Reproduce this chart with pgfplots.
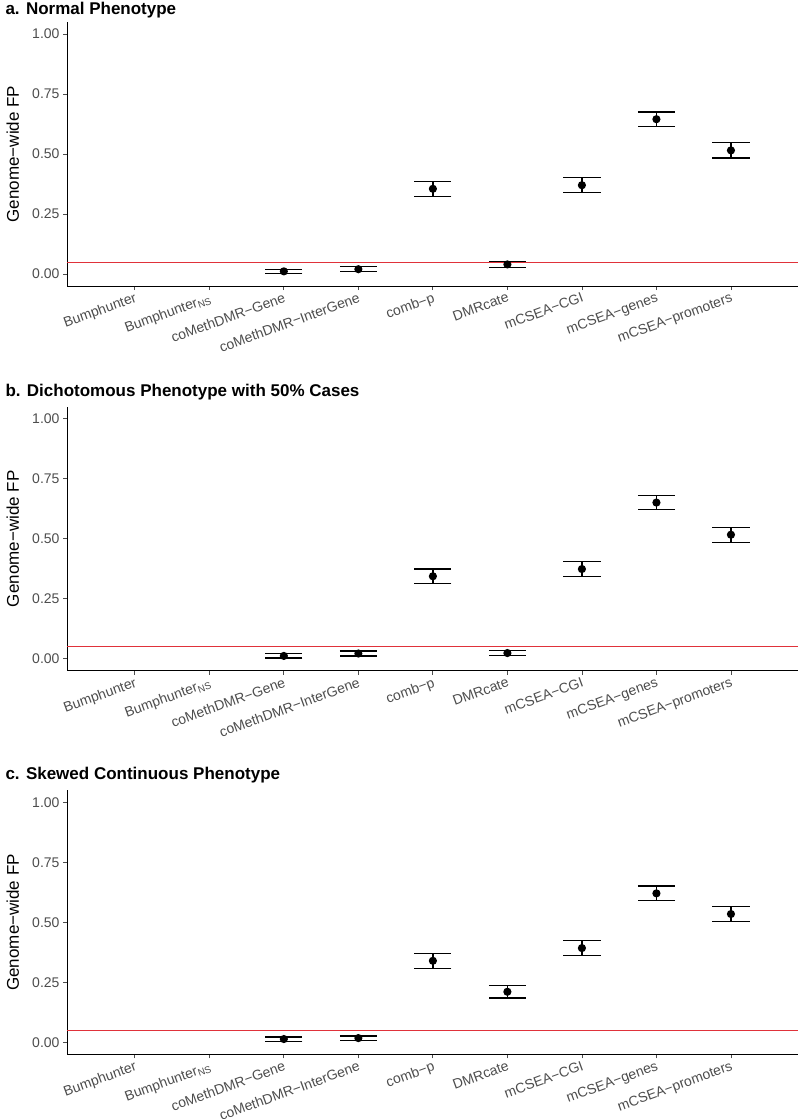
\documentclass[border=0pt]{standalone}
\usepackage{pgfplots}
\pgfplotsset{compat=1.18}
\usepackage{fontspec}
\setmainfont{Liberation Sans}
\definecolor{tickgray}{HTML}{4D4D4D}
\definecolor{hline}{HTML}{E0323A}

\pgfplotsset{
  fpaxis/.style={
    width=731pt, height=264pt, scale only axis,
    anchor=north west,
    xmin=-0.91, xmax=8.9, ymin=-0.05, ymax=1.05,
    axis lines=left,
    axis line style={-, line width=0.9pt, black},
    tick style={line width=0.8pt, tickgray},
    tick align=outside, major tick length=4pt,
    xtick={0,...,8},
    xticklabels={Bumphunter, Bumphunter\textsubscript{NS}, coMethDMR−Gene, coMethDMR−InterGene, comb−p, DMRcate, mCSEA−CGI, mCSEA−genes, mCSEA−promoters},
    ytick={0,0.25,0.5,0.75,1},
    yticklabel style={/pgf/number format/.cd, fixed, fixed zerofill, precision=2, assume math mode=true},
    ticklabel style={font=\fontsize{14}{16}\selectfont, text=tickgray},
    xticklabel style={rotate=20, anchor=north east, inner sep=1.5pt},
    ylabel={Genome−wide FP},
    every axis y label/.style={at={(axis description cs:-0.0657,0.5)}, rotate=90, anchor=base, font=\fontsize{17}{19}\selectfont},
    clip=false,
  },
  pts/.style={only marks, mark=*, mark size=3.4pt, black, line width=1.3pt,
    error bars/.cd, y dir=both, y explicit,
    error bar style={line width=1.3pt, black},
    error mark options={rotate=90, mark size=18.6pt, line width=1.3pt, black}},
  ref/.style={hline, line width=0.9pt, forget plot},
}

\begin{document}
\begin{tikzpicture}
\path[use as bounding box] (0,0) rectangle (800pt,-1119pt);

% ---------- a ----------
\node[anchor=base west, font=\fontsize{17}{19}\selectfont\bfseries] at (2pt,-14pt) {a. Normal Phenotype};
\begin{axis}[fpaxis, at={(67pt,-22pt)}]
\addplot[ref] coordinates {(-0.91,0.05) (8.9,0.05)};
\addplot[pts] coordinates {
 (2,0.011) +- (0,0.009)
 (3,0.020) +- (0,0.010)
 (4,0.355) +- (0,0.031)
 (5,0.040) +- (0,0.013)
 (6,0.370) +- (0,0.031)
 (7,0.645) +- (0,0.030)
 (8,0.515) +- (0,0.032)
};
\end{axis}

% ---------- b ----------
\node[anchor=base west, font=\fontsize{17}{19}\selectfont\bfseries] at (2pt,-396pt) {b. Dichotomous Phenotype with 50\% Cases};
\begin{axis}[fpaxis, at={(67pt,-406.8pt)}]
\addplot[ref] coordinates {(-0.91,0.05) (8.9,0.05)};
\addplot[pts] coordinates {
 (2,0.012) +- (0,0.009)
 (3,0.022) +- (0,0.010)
 (4,0.344) +- (0,0.030)
 (5,0.024) +- (0,0.010)
 (6,0.374) +- (0,0.031)
 (7,0.651) +- (0,0.030)
 (8,0.517) +- (0,0.031)
};
\end{axis}

% ---------- c ----------
\node[anchor=base west, font=\fontsize{17}{19}\selectfont\bfseries] at (2pt,-779.5pt) {c. Skewed Continuous Phenotype};
\begin{axis}[fpaxis, at={(67pt,-790.4pt)}]
\addplot[ref] coordinates {(-0.91,0.05) (8.9,0.05)};
\addplot[pts] coordinates {
 (2,0.014) +- (0,0.009)
 (3,0.018) +- (0,0.009)
 (4,0.340) +- (0,0.031)
 (5,0.211) +- (0,0.026)
 (6,0.393) +- (0,0.031)
 (7,0.621) +- (0,0.031)
 (8,0.535) +- (0,0.032)
};
\end{axis}
\end{tikzpicture}
\end{document}
